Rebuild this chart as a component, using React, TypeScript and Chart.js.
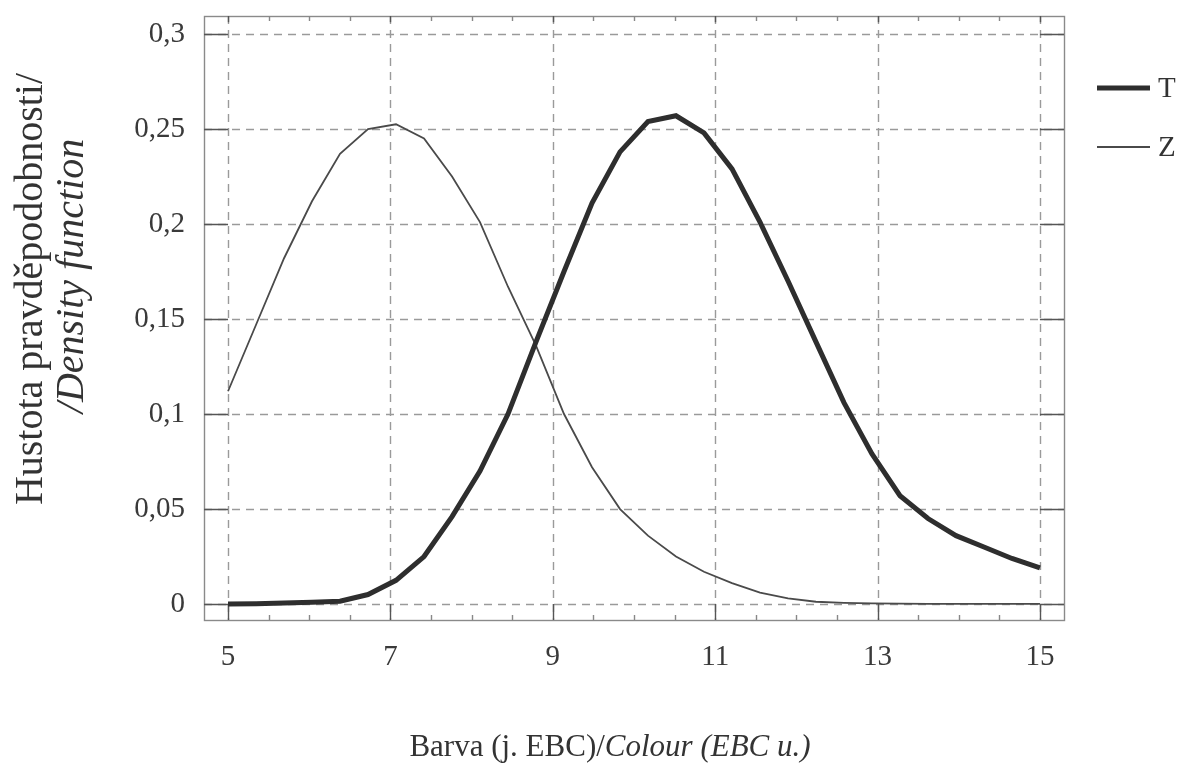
import React, { useEffect, useRef } from "react";
import { Chart, registerables } from "chart.js";

Chart.register(...registerables);

const colourEBC = [5, 5.345, 5.69, 6.034, 6.379, 6.724, 7.069, 7.414, 7.759, 8.103, 8.448, 8.793, 9.138, 9.483, 9.828, 10.172, 10.517, 10.862, 11.207, 11.552, 11.897, 12.241, 12.586, 12.931, 13.276, 13.621, 13.966, 14.31, 14.655, 15];
const seriesT = [0.0, 0.0002, 0.0005, 0.001, 0.0015, 0.005, 0.0125, 0.025, 0.046, 0.07, 0.1, 0.138, 0.175, 0.211, 0.238, 0.254, 0.257, 0.248, 0.229, 0.201, 0.17, 0.138, 0.106, 0.079, 0.057, 0.045, 0.036, 0.03, 0.024, 0.019];
const seriesZ = [0.112, 0.147, 0.182, 0.212, 0.237, 0.25, 0.2525, 0.245, 0.225, 0.201, 0.167, 0.136, 0.1, 0.072, 0.05, 0.036, 0.025, 0.017, 0.011, 0.006, 0.003, 0.0012, 0.0006, 0.0003, 0.0002, 0.0001, 0.0001, 0.0001, 0.0001, 0.0001];
const xTicks = [5, 7, 9, 11, 13, 15];
const xMinorTicks = [5.5, 6, 6.5, 7.5, 8, 8.5, 9.5, 10, 10.5, 11.5, 12, 12.5, 13.5, 14, 14.5];
const yTicks = [0, 0.05, 0.1, 0.15, 0.2, 0.25, 0.3];
const seriesLabels = ["T", "Z"];
const xTitleUpright = "Barva (j. EBC)/";
const xTitleItalic = "Colour (EBC u.)";
const yTitleLine1 = "Hustota pravděpodobnosti/";
const yTitleLine2 = "/Density function";

const FONT = "'Liberation Serif', 'DejaVu Serif', serif";

const framePlugin = {
  id: "framePlugin",
  beforeDatasetsDraw(chart: any) {
    const { ctx, chartArea: a, scales } = chart;
    const xs = scales.x;
    const ys = scales.y;
    ctx.save();
    ctx.strokeStyle = "#9a9a9a";
    ctx.lineWidth = 1.4;
    ctx.setLineDash([8, 6]);
    xTicks.forEach((v) => {
      const px = Math.round(xs.getPixelForValue(v)) + 0.5;
      ctx.beginPath();
      ctx.moveTo(px, a.top);
      ctx.lineTo(px, a.bottom);
      ctx.stroke();
    });
    yTicks.forEach((v) => {
      const py = Math.round(ys.getPixelForValue(v)) + 0.5;
      ctx.beginPath();
      ctx.moveTo(a.left, py);
      ctx.lineTo(a.right, py);
      ctx.stroke();
    });
    ctx.setLineDash([]);
    ctx.strokeStyle = "#8a8a8a";
    ctx.lineWidth = 1.4;
    ctx.strokeRect(a.left + 0.5, a.top + 0.5, a.right - a.left, a.bottom - a.top);
    ctx.strokeStyle = "#555";
    ctx.lineWidth = 1.4;
    const x0 = xs.getPixelForValue(xTicks[0]);
    const xN = xs.getPixelForValue(xTicks[xTicks.length - 1]);
    const y0 = ys.getPixelForValue(yTicks[0]);
    const yN = ys.getPixelForValue(yTicks[yTicks.length - 1]);
    const lenY = x0 - a.left;
    const lenX = a.bottom - y0;
    yTicks.forEach((v) => {
      const py = Math.round(ys.getPixelForValue(v)) + 0.5;
      ctx.beginPath();
      ctx.moveTo(a.left, py);
      ctx.lineTo(a.left + lenY, py);
      ctx.moveTo(a.right, py);
      ctx.lineTo(xN, py);
      ctx.stroke();
    });
    xTicks.forEach((v) => {
      const px = Math.round(xs.getPixelForValue(v)) + 0.5;
      ctx.beginPath();
      ctx.moveTo(px, a.bottom);
      ctx.lineTo(px, a.bottom - lenX);
      ctx.moveTo(px, a.top);
      ctx.lineTo(px, a.top + (yN - a.top) * 0.35);
      ctx.stroke();
    });
    ctx.strokeStyle = "#888";
    xMinorTicks.forEach((v) => {
      const px = Math.round(xs.getPixelForValue(v)) + 0.5;
      ctx.beginPath();
      ctx.moveTo(px, a.bottom);
      ctx.lineTo(px, a.bottom - 5);
      ctx.moveTo(px, a.top);
      ctx.lineTo(px, a.top + 5);
      ctx.stroke();
    });
    ctx.restore();
  },
  afterDraw(chart: any) {
    const { ctx } = chart;
    ctx.save();
    ctx.fillStyle = "#333";
    ctx.textBaseline = "alphabetic";
    ctx.font = `31px ${FONT}`;
    const w1 = ctx.measureText(xTitleUpright).width;
    ctx.font = `italic 31px ${FONT}`;
    const w2 = ctx.measureText(xTitleItalic).width;
    const cx = 610;
    const sx = cx - (w1 + w2) / 2;
    ctx.font = `31px ${FONT}`;
    ctx.textAlign = "left";
    ctx.fillText(xTitleUpright, sx, 756);
    ctx.font = `italic 31px ${FONT}`;
    ctx.fillText(xTitleItalic, sx + w1, 756);
    ctx.save();
    ctx.translate(42, 289);
    ctx.rotate(-Math.PI / 2);
    ctx.textAlign = "center";
    ctx.font = `40px ${FONT}`;
    ctx.fillText(yTitleLine1, 0, 0);
    ctx.restore();
    ctx.save();
    ctx.translate(83, 276);
    ctx.rotate(-Math.PI / 2);
    ctx.textAlign = "center";
    ctx.font = `italic 40px ${FONT}`;
    ctx.fillText(yTitleLine2, 0, 0);
    ctx.restore();
    const ds = chart.data.datasets;
    const rows = [88, 147];
    ds.forEach((d: any, i: number) => {
      const y = rows[i];
      ctx.strokeStyle = d.borderColor;
      ctx.lineWidth = d.borderWidth;
      ctx.beginPath();
      ctx.moveTo(1097, y);
      ctx.lineTo(1150, y);
      ctx.stroke();
      ctx.fillStyle = "#333";
      ctx.font = `29px ${FONT}`;
      ctx.textAlign = "left";
      ctx.textBaseline = "middle";
      ctx.fillText(d.label, 1158, y + 1);
    });
    ctx.restore();
  },
};

export default function App() {
  const ref = useRef<HTMLCanvasElement | null>(null);
  useEffect(() => {
    if (!ref.current) return;
    const chart = new Chart(ref.current, {
      type: "line",
      data: {
        datasets: [
          {
            label: seriesLabels[0],
            data: colourEBC.map((x, i) => ({ x, y: seriesT[i] })),
            borderColor: "#2e2e2e",
            borderWidth: 5,
            pointRadius: 0,
            tension: 0,
            fill: false,
          },
          {
            label: seriesLabels[1],
            data: colourEBC.map((x, i) => ({ x, y: seriesZ[i] })),
            borderColor: "#4a4a4a",
            borderWidth: 1.8,
            pointRadius: 0,
            tension: 0,
            fill: false,
          },
        ],
      },
      options: {
        animation: false,
        responsive: true,
        maintainAspectRatio: false,
        layout: { padding: { top: 16, right: 123, left: 0, bottom: 0 } },
        plugins: { legend: { display: false }, tooltip: { enabled: false } },
        scales: {
          x: {
            type: "linear",
            min: 4.704,
            max: 15.296,
            afterBuildTicks: (s: any) => {
              s.ticks = xTicks.map((v) => ({ value: v }));
            },
            afterFit: (s: any) => {
              s.height = 145;
              s.paddingLeft = 0;
              s.paddingRight = 0;
            },
            grid: { display: false, drawTicks: false },
            border: { display: false },
            ticks: {
              padding: 20,
              color: "#3a3a3a",
              font: { family: FONT, size: 29 },
              callback: (v: any) => String(v),
            },
          },
          y: {
            type: "linear",
            min: -0.0084,
            max: 0.3095,
            afterBuildTicks: (s: any) => {
              s.ticks = yTicks.map((v) => ({ value: v }));
            },
            afterFit: (s: any) => {
              s.width = 204;
              s.paddingTop = 0;
              s.paddingBottom = 0;
            },
            grid: { display: false, drawTicks: false },
            border: { display: false },
            ticks: {
              padding: 19,
              color: "#3a3a3a",
              font: { family: FONT, size: 29 },
              callback: (v: any) => String(Math.round(v * 100) / 100).replace(".", ","),
            },
          },
        },
      },
      plugins: [framePlugin],
    });
    return () => chart.destroy();
  }, []);
  return (
    <div style={{ position: "fixed", left: 0, top: 0, width: 1187, height: 765, background: "#fff" }}>
      <canvas ref={ref} />
    </div>
  );
}
